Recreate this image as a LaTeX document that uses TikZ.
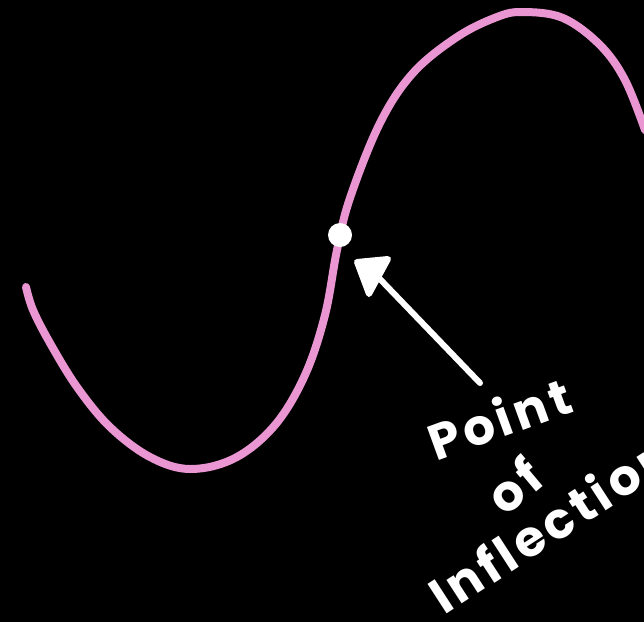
\documentclass[tikz,border=0pt]{standalone}
\usepackage{fontspec}
\setmainfont{Poppins}
\begin{document}
\begin{tikzpicture}[x=1pt,y=-1pt,
  curvestyle/.style={line width=8pt,color=curvepink,line cap=round,line join=round},
  arrowstyle/.style={line width=6pt,white,line cap=round,line join=round},
  hand/.style={white,font=\fontsize{50}{50}\selectfont\bfseries\addfontfeature{LetterSpace=8},inner sep=0pt}]
\definecolor{curvepink}{RGB}{234,150,210}
\fill[black] (0,0) rectangle (644,622);
\useasboundingbox (0,0) rectangle (644,622);
\begin{scope}
\clip (0,0) rectangle (644,622);
\draw[curvestyle] plot[smooth,tension=0.6] coordinates {
 (26,287) (33,310) (50,343) (77,387) (110,427) (150,457) (190,469)
 (235,458) (275,425) (305,375) (325,315) (337,250) (350,198) (380,123)
 (413,73) (457,37) (497,17) (523,12) (563,18) (600,45) (625,80) (645,130)};
\node[circle,fill=white,minimum size=24pt,inner sep=0pt] (dot) at (340,235) {};
\coordinate (tail) at (480,383);
\coordinate (head) at (378,277);
\draw[arrowstyle] (tail) -- (head);
\filldraw[arrowstyle] (357,262) -- (388,259) -- (369,294) -- cycle;
\node[hand,anchor=base west,rotate=20] (point) at (436,462) {Point};
\node[hand,anchor=center,rotate=40] (of) at (514,485) {of};
\node[hand,anchor=base west,rotate=33] (infl) at (444,616) {Inflection};
\end{scope}
\end{tikzpicture}
\end{document}
